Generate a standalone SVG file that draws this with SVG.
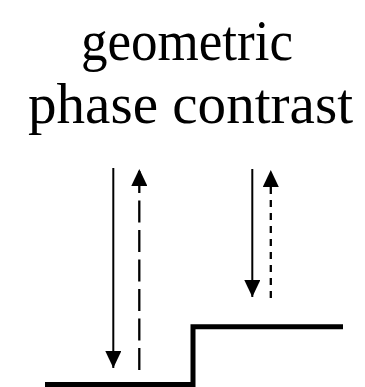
<svg xmlns="http://www.w3.org/2000/svg" width="365" height="387" viewBox="0 0 365 387">
<style>
.t{font-family:"Liberation Serif","DejaVu Serif",serif;font-size:56px;fill:#000}
.s{stroke:#000;stroke-width:2;fill:none}
.d1{stroke:#000;stroke-width:2.3;fill:none;stroke-dasharray:22 7.5}
.d2{stroke:#000;stroke-width:2.3;fill:none;stroke-dasharray:7 6}
.step{stroke:#000;stroke-width:5;fill:none;stroke-linejoin:miter}
</style>
<defs>
<marker id="ah" viewBox="0 0 17 16" refX="17" refY="8" markerWidth="17" markerHeight="16" markerUnits="userSpaceOnUse" orient="auto">
<path d="M0,0 L17,8 L0,16 Z" fill="#000"/>
</marker>
</defs>
<g id="title">
<text class="t" x="81" y="60" textLength="212" lengthAdjust="spacingAndGlyphs">geometric</text>
<text class="t" x="28" y="122.5" textLength="325" lengthAdjust="spacingAndGlyphs">phase contrast</text>
</g>
<g id="surface">
<path class="step" d="M45,384.5 H193 V326.7 H343"/>
</g>
<g id="connectors">
<path class="s" d="M113.3,168 V368" marker-end="url(#ah)"/>
<path class="d1" d="M139.3,370 V169" marker-end="url(#ah)"/>
<path class="s" d="M252.3,169 V297" marker-end="url(#ah)"/>
<path class="d2" d="M270.8,298 V170" marker-end="url(#ah)"/>
</g>
</svg>
